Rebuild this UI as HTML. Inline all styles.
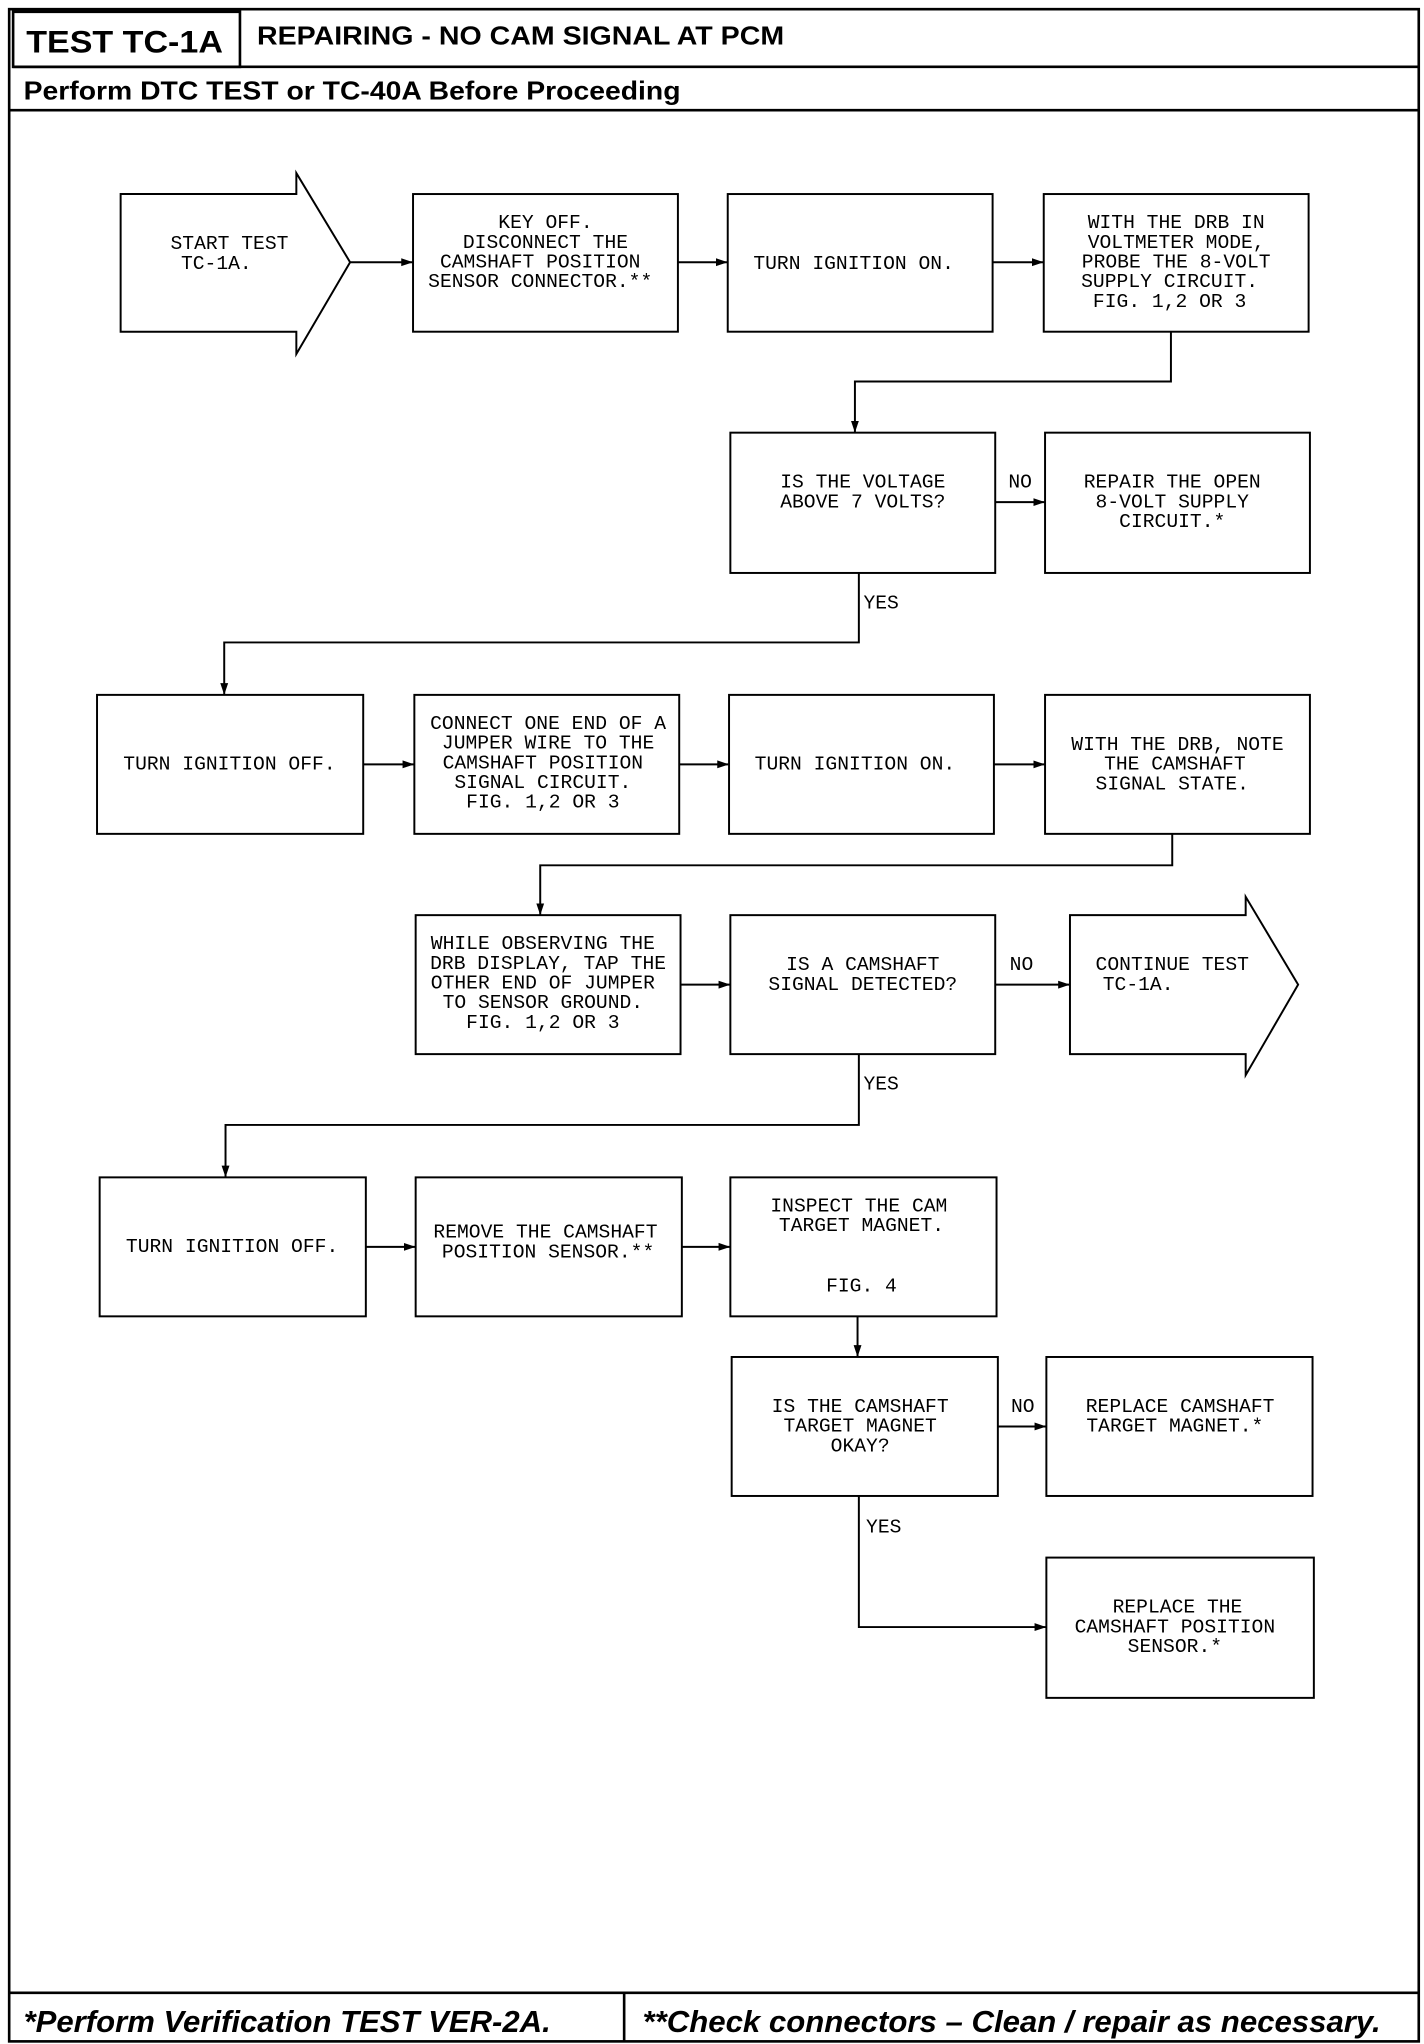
<!DOCTYPE html>
<html><head><meta charset="utf-8"><style>
html,body{margin:0;padding:0;background:#fff;}
svg{display:block;}
.b{font-family:"Liberation Sans",Arial,sans-serif;font-weight:bold;}
.m{font-family:"Liberation Mono",monospace;font-size:15px;fill:#000;}
</style></head><body>
<svg width="1424" height="2044" viewBox="0 0 1086 1559" preserveAspectRatio="none" xmlns="http://www.w3.org/2000/svg">
<defs><marker id="a" markerWidth="10" markerHeight="8" refX="9" refY="4" orient="auto" markerUnits="userSpaceOnUse"><path d="M0,1 L9,4 L0,7 Z" fill="#000"/></marker></defs>
<g fill="none" stroke="#000" stroke-width="2">
<rect x="7" y="7" width="1075" height="1550"/>
<rect x="10" y="9" width="173" height="42"/>
<line x1="10" y1="51" x2="1082" y2="51"/>
<line x1="7" y1="84" x2="1082" y2="84"/>
<line x1="7" y1="1520" x2="1082" y2="1520"/>
<line x1="476" y1="1520" x2="476" y2="1557"/>
</g>
<text x="20" y="40" class="b" font-size="24" textLength="150" lengthAdjust="spacingAndGlyphs">TEST TC-1A</text>
<text x="196" y="34" class="b" font-size="20" textLength="402" lengthAdjust="spacingAndGlyphs">REPAIRING - NO CAM SIGNAL AT PCM</text>
<text x="18" y="76" class="b" font-size="20" textLength="501" lengthAdjust="spacingAndGlyphs">Perform DTC TEST or TC-40A Before Proceeding</text>
<text x="18" y="1550" class="b" font-size="23" font-style="italic" textLength="402" lengthAdjust="spacingAndGlyphs">*Perform Verification TEST VER-2A.</text>
<text x="490" y="1550" class="b" font-size="23" font-style="italic" textLength="563" lengthAdjust="spacingAndGlyphs">**Check connectors – Clean / repair as necessary.</text>

<g fill="none" stroke="#000" stroke-width="1.5">
<path d="M92,148 H226 V132 L267,200 L226,270 V253 H92 Z"/>
<rect x="315" y="148" width="202" height="105"/>
<rect x="555" y="148" width="202" height="105"/>
<rect x="796" y="148" width="202" height="105"/>
<rect x="557" y="330" width="202" height="107"/>
<rect x="797" y="330" width="202" height="107"/>
<rect x="74" y="530" width="203" height="106"/>
<rect x="316" y="530" width="202" height="106"/>
<rect x="556" y="530" width="202" height="106"/>
<rect x="797" y="530" width="202" height="106"/>
<rect x="317" y="698" width="202" height="106"/>
<rect x="557" y="698" width="202" height="106"/>
<path d="M816,698 H950 V684 L990,751 L950,820 V804 H816 Z"/>
<rect x="76" y="898" width="203" height="106"/>
<rect x="317" y="898" width="203" height="106"/>
<rect x="557" y="898" width="203" height="106"/>
<rect x="558" y="1035" width="203" height="106"/>
<rect x="798" y="1035" width="203" height="106"/>
<rect x="798" y="1188" width="204" height="107"/>
</g>
<g fill="none" stroke="#000" stroke-width="1.5" marker-end="url(#a)">
<line x1="267" y1="200" x2="315" y2="200"/>
<line x1="517" y1="200" x2="555" y2="200"/>
<line x1="757" y1="200" x2="796" y2="200"/>
<path d="M893,253 V291 H652 V330"/>
<line x1="759" y1="383" x2="797" y2="383"/>
<path d="M655,437 V490 H171 V530"/>
<line x1="277" y1="583" x2="316" y2="583"/>
<line x1="518" y1="583" x2="556" y2="583"/>
<line x1="758" y1="583" x2="797" y2="583"/>
<path d="M894,636 V660 H412 V698"/>
<line x1="519" y1="751" x2="557" y2="751"/>
<line x1="759" y1="751" x2="816" y2="751"/>
<path d="M655,804 V858 H172 V898"/>
<line x1="279" y1="951" x2="317" y2="951"/>
<line x1="520" y1="951" x2="557" y2="951"/>
<line x1="654" y1="1004" x2="654" y2="1035"/>
<line x1="761" y1="1088" x2="798" y2="1088"/>
<path d="M655,1141 V1241 H798"/>
</g>
<g class="m" text-anchor="middle">
<text x="175" y="190">START TEST</text><text x="165" y="205">TC-1A.</text>
<text x="416" y="174">KEY OFF.</text><text x="416" y="189">DISCONNECT THE</text><text x="412" y="204">CAMSHAFT POSITION</text><text x="412" y="219">SENSOR CONNECTOR.**</text>
<text x="651" y="205">TURN IGNITION ON.</text>
<text x="897" y="174">WITH THE DRB IN</text><text x="897" y="189">VOLTMETER MODE,</text><text x="897" y="204">PROBE THE 8-VOLT</text><text x="892" y="219">SUPPLY CIRCUIT.</text><text x="892" y="234">FIG. 1,2 OR 3</text>
<text x="658" y="372">IS THE VOLTAGE</text><text x="658" y="387">ABOVE 7 VOLTS?</text>
<text x="894" y="372">REPAIR THE OPEN</text><text x="894" y="387">8-VOLT SUPPLY</text><text x="894" y="402">CIRCUIT.*</text>
<text x="175" y="587">TURN IGNITION OFF.</text>
<text x="418" y="556">CONNECT ONE END OF A</text><text x="418" y="571">JUMPER WIRE TO THE</text><text x="414" y="586">CAMSHAFT POSITION</text><text x="414" y="601">SIGNAL CIRCUIT.</text><text x="414" y="616">FIG. 1,2 OR 3</text>
<text x="652" y="587">TURN IGNITION ON.</text>
<text x="898" y="572">WITH THE DRB, NOTE</text><text x="896" y="587">THE CAMSHAFT</text><text x="894" y="602">SIGNAL STATE.</text>
<text x="414" y="724">WHILE OBSERVING THE</text><text x="418" y="739">DRB DISPLAY, TAP THE</text><text x="414" y="754">OTHER END OF JUMPER</text><text x="414" y="769">TO SENSOR GROUND.</text><text x="414" y="784">FIG. 1,2 OR 3</text>
<text x="658" y="740">IS A CAMSHAFT</text><text x="658" y="755">SIGNAL DETECTED?</text>
<text x="894" y="740">CONTINUE TEST</text><text x="868" y="755">TC-1A.</text>
<text x="177" y="955">TURN IGNITION OFF.</text>
<text x="416" y="944">REMOVE THE CAMSHAFT</text><text x="418" y="959">POSITION SENSOR.**</text>
<text x="655" y="924">INSPECT THE CAM</text><text x="657" y="939">TARGET MAGNET.</text><text x="657" y="985">FIG. 4</text>
<text x="656" y="1077">IS THE CAMSHAFT</text><text x="656" y="1092">TARGET MAGNET</text><text x="656" y="1107">OKAY?</text>
<text x="900" y="1077">REPLACE CAMSHAFT</text><text x="896" y="1092">TARGET MAGNET.*</text>
<text x="898" y="1230">REPLACE THE</text><text x="896" y="1245">CAMSHAFT POSITION</text><text x="896" y="1260">SENSOR.*</text>
<text x="778" y="372">NO</text><text x="672" y="464">YES</text>
<text x="779" y="740">NO</text><text x="672" y="831">YES</text>
<text x="780" y="1077">NO</text><text x="674" y="1169">YES</text>
</g>
</svg>
</body></html>
